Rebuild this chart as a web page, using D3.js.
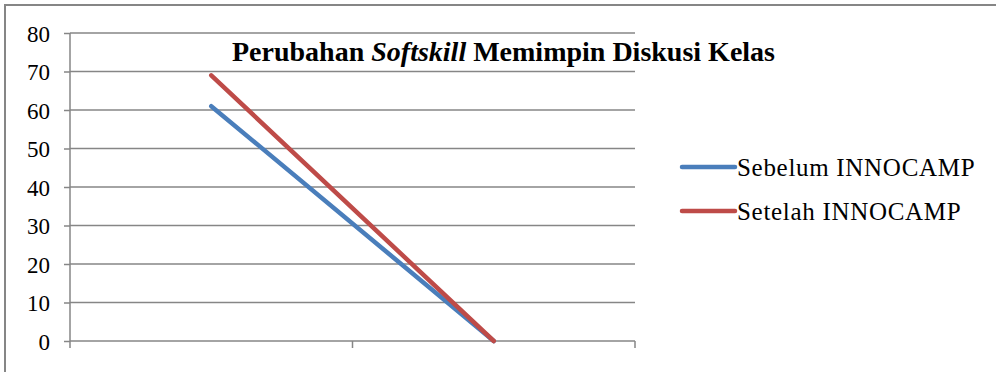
<!DOCTYPE html>
<html>
<head>
<meta charset="utf-8">
<script src="https://cdn.jsdelivr.net/npm/d3@7"></script>
<style>
  html, body { margin: 0; padding: 0; background: #fff; }
  svg { display: block; }
</style>
</head>
<body>
<svg id="chart" width="996" height="372"></svg>
<script>
// Chart data
const categories = ["Kategori 1", "Kategori 2"];
const seriesNames = ["Sebelum INNOCAMP", "Setelah INNOCAMP"];
const sebelum = [61, 0];
const setelah = [69, 0];
const yTicks = [0, 10, 20, 30, 40, 50, 60, 70, 80];
const seriesColors = ["#4a7ebb", "#be4b48"];

const FONT = "Liberation Serif, Tinos, Times New Roman, DejaVu Serif, serif";

const series = [
  { name: seriesNames[0], values: sebelum, color: seriesColors[0] },
  { name: seriesNames[1], values: setelah, color: seriesColors[1] }
];

const svg = d3.select("#chart");
const W = 996, H = 372;
const plot = { left: 70, right: 635, top: 33, bottom: 341 };
const gridColor = "#868686";

// Outer chart frame (continues past the right and bottom edge)
svg.append("rect")
  .attr("x", 5).attr("y", 5)
  .attr("width", W + 20).attr("height", H + 20)
  .attr("fill", "none").attr("stroke", gridColor).attr("stroke-width", 2);

const x = d3.scaleBand().domain(categories).range([plot.left, plot.right]);
const y = d3.scaleLinear().domain([0, 80]).range([plot.bottom, plot.top]);

// Horizontal gridlines
svg.append("g").selectAll("line").data(yTicks.filter(d => d > 0)).join("line")
  .attr("x1", plot.left).attr("x2", plot.right)
  .attr("y1", d => y(d)).attr("y2", d => y(d))
  .attr("stroke", gridColor).attr("stroke-width", 1.5);

// Y axis
const yAxis = svg.append("g")
  .attr("transform", `translate(${plot.left},0)`)
  .call(d3.axisLeft(y).tickValues(yTicks).tickSize(6).tickPadding(14))
  .attr("font-family", FONT);
yAxis.select(".domain").attr("stroke", gridColor).attr("stroke-width", 1.5)
  .attr("d", `M0,${plot.top}V${plot.bottom}`);
yAxis.selectAll(".tick line").attr("stroke", gridColor).attr("stroke-width", 1.5);
yAxis.selectAll(".tick text")
  .attr("font-family", FONT)
  .attr("font-size", 23).attr("fill", "#000").attr("dy", "0.36em");

// X axis with tick marks on category boundaries
const xg = svg.append("g");
xg.append("line")
  .attr("x1", plot.left).attr("x2", plot.right)
  .attr("y1", y(0)).attr("y2", y(0))
  .attr("stroke", gridColor).attr("stroke-width", 1.5);
const boundaries = categories.map(c => x(c)).concat([x(categories[categories.length - 1]) + x.bandwidth()]);
xg.selectAll("line.tick").data(boundaries).join("line").attr("class", "tick")
  .attr("x1", d => d).attr("x2", d => d)
  .attr("y1", y(0)).attr("y2", y(0) + 7)
  .attr("stroke", gridColor).attr("stroke-width", 1.5);

// Series lines
const line = d3.line()
  .x((d, i) => x(categories[i]) + x.bandwidth() / 2)
  .y(d => y(d));
svg.append("g").selectAll("path").data(series).join("path")
  .attr("d", d => line(d.values))
  .attr("fill", "none")
  .attr("stroke", d => d.color)
  .attr("stroke-width", 4.5)
  .attr("stroke-linecap", "round")
  .attr("stroke-linejoin", "round");

// Title
const title = svg.append("text")
  .attr("x", 232).attr("y", 61)
  .attr("font-family", FONT)
  .attr("font-size", 28).attr("font-weight", "bold");
title.append("tspan").text("Perubahan ");
title.append("tspan").attr("font-style", "italic").text("Softskill");
title.append("tspan").text(" Memimpin Diskusi Kelas");

// Legend
const legend = svg.append("g");
const legendItems = legend.selectAll("g").data(series).join("g")
  .attr("transform", (d, i) => `translate(0,${167 + i * 44})`);
legendItems.append("line")
  .attr("x1", 682).attr("x2", 735).attr("y1", 0).attr("y2", 0)
  .attr("stroke", d => d.color).attr("stroke-width", 4.5)
  .attr("stroke-linecap", "round");
legendItems.append("text")
  .attr("x", 737).attr("y", 0).attr("dy", "0.35em")
  .attr("font-family", FONT)
  .attr("font-size", 25)
  .attr("letter-spacing", 0.7)
  .text(d => d.name);
</script>
</body>
</html>
